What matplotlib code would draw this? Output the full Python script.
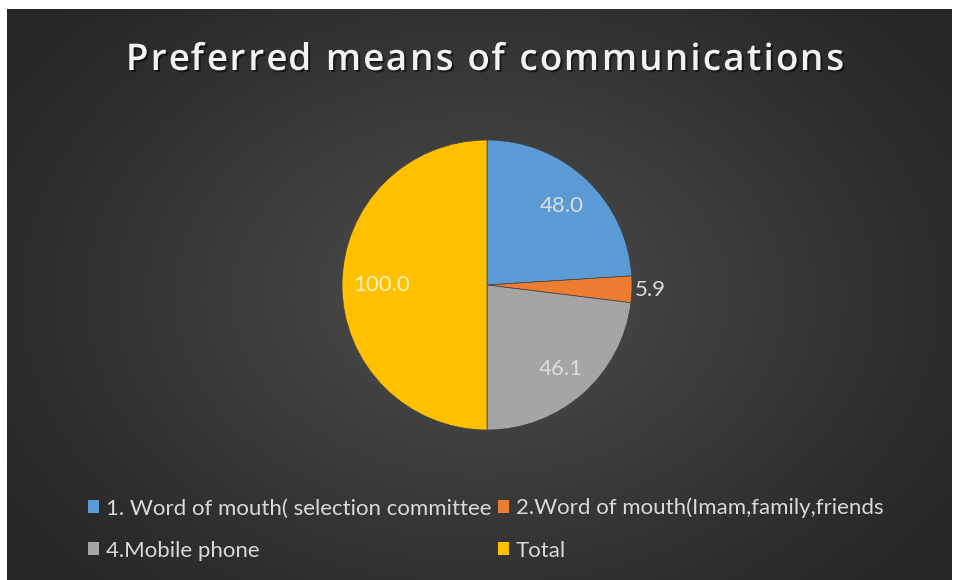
import numpy as np
import matplotlib.pyplot as plt
import matplotlib.patheffects as pe

# survey results
labels = ['1. Word of mouth( selection committee', '2.Word of mouth(Imam,family,friends',
          '4.Mobile phone', 'Total']
values = [48.0, 5.9, 46.1, 100.0]
colors = ['#5B9BD5', '#ED7D31', '#A5A5A5', '#FFC000']
title = 'Preferred means of communications'

W, H = 954, 580
fig = plt.figure(figsize=(W / 100, H / 100), dpi=100, facecolor='white')
renderer = fig.canvas.get_renderer()

# dark background with a soft radial glow in the middle
bg = fig.add_axes([7 / W, 0, 945 / W, 571 / H])
ny, nx = 300, 500
yy, xx = np.mgrid[0:ny, 0:nx]
r = np.sqrt(((xx - nx * 0.5) / (nx * 0.62)) ** 2 + ((yy - ny * 0.5) / (ny * 0.75)) ** 2)
r = np.clip(r, 0, 1)
edge = np.array([0.15, 0.15, 0.15])
centre = np.array([0.31, 0.31, 0.31])
img = edge + (centre - edge) * (1 - r[..., None]) ** 1.2
bg.imshow(img, aspect='auto', extent=[0, 1, 0, 1], interpolation='bilinear')
bg.set_axis_off()


def text_width(s, **kw):
    t = fig.text(0, 0, s + 'x', **kw)
    w = t.get_window_extent(renderer).width
    t.remove()
    t = fig.text(0, 0, 'x', **kw)
    w -= t.get_window_extent(renderer).width
    t.remove()
    return w


# title, drawn letter by letter to get the wide tracking
tkw = dict(fontsize=26.5, fontweight='semibold', family='Open Sans')
spacing = 2.2
offsets = [text_width(title[:i], **tkw) + i * spacing for i in range(len(title))]
total = text_width(title, **tkw) + (len(title) - 1) * spacing
x0 = 485 - total / 2
shadow = [pe.withSimplePatchShadow(offset=(1.5, -1.5), shadow_rgbFace='black', alpha=0.5)]
for ch, off in zip(title, offsets):
    if ch == ' ':
        continue
    fig.text((x0 + off) / W, 1 - 61 / H, ch, ha='left', va='center', color='#f2f2f2',
             path_effects=shadow, **tkw)

# the pie, radius ~145 px centred at (487, 285)
R = 145
ax = fig.add_axes([(487 - R) / W, (H - 285 - R) / H, 2 * R / W, 2 * R / H])
wedges, _ = ax.pie(values, colors=colors, startangle=90, counterclock=False,
                   wedgeprops=dict(edgecolor='#404040', linewidth=0.5))
ax.set_xlim(-1, 1)
ax.set_ylim(-1, 1)
ax.set_aspect('equal')

# value labels
dist = [0.75, 1.13, 0.77, 0.73]
for w, v, d in zip(wedges, values, dist):
    ang = np.deg2rad((w.theta1 + w.theta2) / 2)
    x, y = d * np.cos(ang), d * np.sin(ang)
    ax.text(x, y, f'{v:.1f}', ha='center', va='center', fontsize=16,
            family='Lato', color='#dcdcdc' if v != 100.0 else '#fff2c4')

# legend is filled column by column, so reorder to read across rows
order = [0, 2, 1, 3]
leg = fig.legend([wedges[i] for i in order], [labels[i] for i in order], ncol=2,
                 loc='upper left', bbox_to_anchor=(70 / W, 1 - 480 / H), frameon=False,
                 prop={'family': 'Lato', 'size': 16},
                 handlelength=0.5, handleheight=0.5, handletextpad=0.3,
                 columnspacing=0.3, labelspacing=1.0, borderpad=0.3)
for t in leg.get_texts():
    t.set_color('#d9d9d9')
for h in leg.legend_handles:
    h.set_edgecolor('none')

fig.savefig('out.png', dpi=100, facecolor='white')
